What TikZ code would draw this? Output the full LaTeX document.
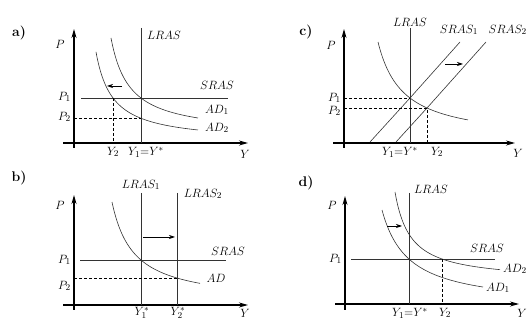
\documentclass[tikz,border=0pt]{standalone}
\usetikzlibrary{arrows.meta}
\tikzset{
  axisline/.style={-{Stealth[length=9pt,width=5pt]},line width=1.2pt},
  levelline/.style={line width=0.6pt,black!80},
  adcurve/.style={line width=0.6pt,black!80,samples=80,smooth},
  guideline/.style={line width=0.6pt,dash pattern=on 3pt off 2pt},
  movearrow/.style={-{Stealth[length=6pt,width=4pt]},line width=0.7pt},
  panellabel/.style={font=\fontsize{14}{16}\selectfont\bfseries},
}
\begin{document}
\begin{tikzpicture}[x=1pt,y=-1pt,font=\fontsize{13}{15}\selectfont,inner sep=1pt]
        \useasboundingbox (0,0) rectangle (528,320);
        \node[panellabel] (pa) at (19,33) {a)};
        \draw[axisline] (63,143) -- (248,143);
        \draw[axisline] (74,148) -- (74,29);
        \node (Pa) at (60,44) {$P$};
        \node (Ya) at (245,154) {$Y$};
        \draw[levelline] (141,28) -- (141,143);
        \node (LRASa) at (164,35) {$LRAS$};
        \draw[levelline] (81,98) -- (228,98);
        \node (SRASa) at (217,85) {$SRAS$};
        \draw[adcurve,domain=111:198] plot (\x,{135-1794.5/(\x-92.5)});
        \draw[adcurve,domain=96:198] plot (\x,{142.6-1495.7/(\x-79.5)});
        \node (AD1a) at (217,110) {$AD_1$};
        \node (AD2a) at (217,128) {$AD_2$};
        \coordinate (Ea) at (113,98);
        \coordinate (Fa) at (141,{142.6-1495.7/(141-79.5)});
        \draw[guideline] (Ea) -- (113,143);
        \draw[guideline] (74,0 |- Fa) -- (Fa);
        \node[anchor=east] (P1a) at (72,97) {$P_1$};
        \node[anchor=east] (P2a) at (72,117) {$P_2$};
        \node (Y2a) at (113,152) {$Y_2$};
        \node (Y1a) at (146,152) {$Y_1{=}Y^*$};
        \draw[movearrow] (122,86) -- (107,86);

        \node[panellabel] (pb) at (19,178) {b)};
        \draw[axisline] (63,305) -- (248,305);
        \draw[axisline] (74,310) -- (74,195);
        \node (Pb) at (60,205) {$P$};
        \node (Yb) at (245,313) {$Y$};
        \draw[levelline] (141,193) -- (141,305);
        \draw[levelline] (177,193) -- (177,305);
        \node (LRAS1b) at (141,185) {$LRAS_1$};
        \node (LRAS2b) at (203,194) {$LRAS_2$};
        \draw[levelline] (80,260) -- (226,260);
        \node (SRASb) at (228,251) {$SRAS$};
        \draw[adcurve,domain=112:200] plot (\x,{303.4-2200/(\x-90.3)});
        \node (ADb) at (216,278) {$AD$};
        \coordinate (Fb) at (177,{303.4-2200/(177-90.3)});
        \draw[guideline] (74,0 |- Fb) -- (Fb);
        \node[anchor=east] (P1b) at (72,260) {$P_1$};
        \node[anchor=east] (P2b) at (72,286) {$P_2$};
        \node (Y1b) at (142,313) {$Y_1^*$};
        \node (Y2b) at (178,313) {$Y_2^*$};
        \draw[movearrow] (143,237) -- (175,237);

        \node[panellabel] (pc) at (306,32) {c)};
        \draw[axisline] (333,143) -- (515,143);
        \draw[axisline] (344,148) -- (344,29);
        \node (Pc) at (331,45) {$P$};
        \node (Yc) at (518,153) {$Y$};
        \draw[levelline] (410,28) -- (410,143);
        \node (LRASc) at (410,22) {$LRAS$};
        \draw[adcurve,domain=378:468] plot (\x,{141.4-2465/(\x-353.2)});
        \coordinate (Ec) at (410,{141.4-2465/(410-353.2)});
        \coordinate (Fc) at (427,{141.4-2465/(427-353.2)});
        \draw[levelline] (Ec) -- ++(-40,44) (Ec) -- ++(50,-56);
        \draw[levelline] (Fc) -- ++(-31,34) (Fc) -- ++(59,-66);
        \node (SRAS1c) at (459,30) {$SRAS_1$};
        \node[anchor=east] (SRAS2c) at (528,30) {$SRAS_2$};
        \draw[guideline] (344,0 |- Ec) -- (Ec);
        \draw[guideline] (344,0 |- Fc) -- (Fc) -- (427,143);
        \node[anchor=east] (P1c) at (342,98) {$P_1$};
        \node[anchor=east] (P2c) at (342,111) {$P_2$};
        \node (Y1c) at (400,152) {$Y_1{=}Y^*$};
        \node (Y2c) at (437,152) {$Y_2$};
        \draw[movearrow] (445,64) -- (463,64);

        \node[panellabel] (pd) at (306,183) {d)};
        \draw[axisline] (335,304) -- (519,304);
        \draw[axisline] (345,310) -- (345,196);
        \node (Pd) at (332,205) {$P$};
        \node (Yd) at (522,313) {$Y$};
        \draw[levelline] (409,193) -- (409,304);
        \node (LRASd) at (431,189) {$LRAS$};
        \draw[levelline] (351,259) -- (495,259);
        \node (SRASd) at (487,248) {$SRAS$};
        \draw[adcurve,domain=382:483] plot (\x,{307.3-2587.5/(\x-355.4)});
        \draw[adcurve,domain=395:500] plot (\x,{281.2-1392/(\x-379.4)});
        \node[anchor=east] (AD2d) at (528,269) {$AD_2$};
        \node (AD1d) at (498,288) {$AD_1$};
        \draw[guideline] (442,259) -- (442,304);
        \node[anchor=east] (P1d) at (343,259) {$P_1$};
        \node (Y1d) at (410,313) {$Y_1{=}Y^*$};
        \node (Y2d) at (445,313) {$Y_2$};
        \draw[movearrow] (387,226) -- (402,226);
\end{tikzpicture}
\end{document}
